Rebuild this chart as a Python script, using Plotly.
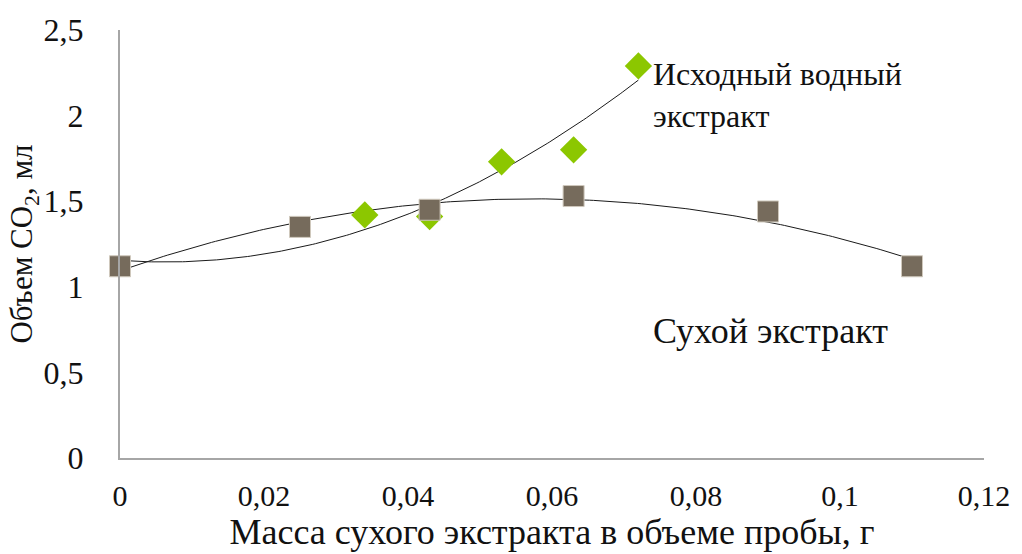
import numpy as np
import plotly.graph_objects as go

# Dry extract (squares)
dry_x = [0, 0.025, 0.043, 0.063, 0.09, 0.11]
dry_y = [1.12, 1.35, 1.45, 1.53, 1.44, 1.12]

# Original aqueous extract (diamonds)
aq_x = [0, 0.034, 0.043, 0.053, 0.063, 0.072]
aq_y = [1.14, 1.42, 1.41, 1.73, 1.80, 2.29]

x_ticks = [0, 0.02, 0.04, 0.06, 0.08, 0.1, 0.12]
y_ticks = [0, 0.5, 1, 1.5, 2, 2.5]

FONT = "Liberation Serif"


def poly_trend(x, y, deg):
    coeffs = np.polyfit(x, y, deg)
    xs = np.linspace(min(x), max(x), 200)
    return xs, np.polyval(coeffs, xs)


fig = go.Figure()

tx, ty = poly_trend(dry_x, dry_y, 2)
fig.add_trace(go.Scatter(x=tx, y=ty, mode="lines", cliponaxis=False,
                         line=dict(color="#1a1a1a", width=1), hoverinfo="skip"))
tx, ty = poly_trend(aq_x, aq_y, 2)
fig.add_trace(go.Scatter(x=tx, y=ty, mode="lines", cliponaxis=False,
                         line=dict(color="#1a1a1a", width=1), hoverinfo="skip"))

fig.add_trace(go.Scatter(
    x=aq_x[1:], y=aq_y[1:], mode="markers", name="Исходный водный экстракт",
    cliponaxis=False,
    marker=dict(symbol="diamond", size=21, color="#8CC700",
                line=dict(width=0))))
fig.add_trace(go.Scatter(
    x=dry_x, y=dry_y, mode="markers", name="Сухой экстракт",
    cliponaxis=False,
    marker=dict(symbol="square", size=21, color="#766B5C",
                line=dict(width=1, color="#CFC8BC"))))

fig.add_annotation(x=0.0738, y=2.36, xref="x", yref="y",
                   text="Исходный водный<br>экстракт", showarrow=False,
                   xanchor="left", yanchor="top", align="left",
                   font=dict(family=FONT, size=32, color="#111"))
fig.add_annotation(x=0.0738, y=0.74, xref="x", yref="y",
                   text="Сухой экстракт", showarrow=False,
                   xanchor="left", yanchor="middle", align="left",
                   font=dict(family=FONT, size=36, color="#111"))

fig.update_layout(
    width=1022, height=554,
    margin=dict(l=120, r=32, t=30, b=96),
    paper_bgcolor="white", plot_bgcolor="white",
    showlegend=False,
    separators=", ",
    font=dict(family=FONT, size=26, color="#111"),
    xaxis=dict(
        range=[0, 0.12], tickvals=x_ticks, tickformat="~g",
        showgrid=False, zeroline=False, showline=True,
        linecolor="#A6A6A6", linewidth=2, ticks="",
        ticklabelstandoff=10,
        tickfont=dict(family=FONT, size=30),
        title=dict(text="Масса сухого экстракта в объеме пробы, г",
                   font=dict(family=FONT, size=36), standoff=0),
    ),
    yaxis=dict(
        range=[0, 2.5], tickvals=y_ticks, tickformat="~g",
        showgrid=False, zeroline=False, showline=True,
        linecolor="#A6A6A6", linewidth=2, ticks="",
        ticklabelstandoff=28,
        tickfont=dict(family=FONT, size=32),
        title=dict(text="Объем CO<sub>2</sub>, мл",
                   font=dict(family=FONT, size=31), standoff=0),
    ),
)

fig.write_html("out.html")
